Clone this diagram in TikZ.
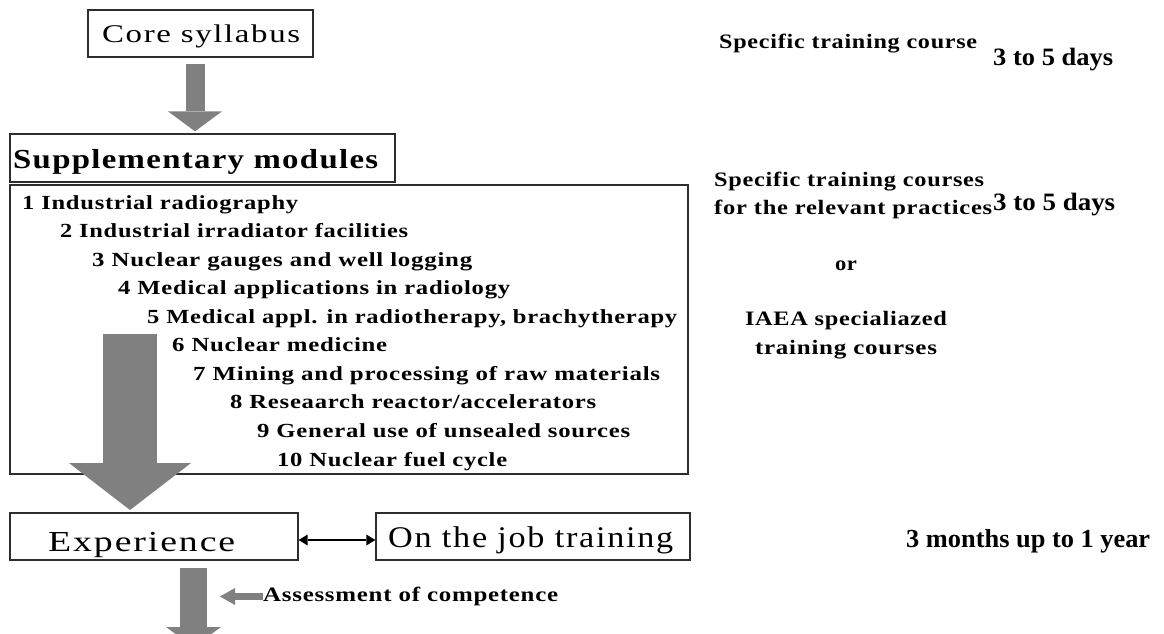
\documentclass[tikz,border=0pt]{standalone}
\usepackage{fontspec}
\setmainfont{Liberation Serif}
\usepackage{graphicx}
\usetikzlibrary{arrows.meta,calc}

\definecolor{arrowgray}{RGB}{128,128,128}
\definecolor{framegray}{RGB}{45,45,45}

% set a text and stretch it horizontally to a given width (in pt)
\newsavebox\fitbx
\newcommand\fitw[2]{\sbox\fitbx{#2}\pgfmathsetmacro\fitsx{#1/\the\wd\fitbx}\scalebox{\fitsx}[1]{\usebox\fitbx}}

\tikzset{
  frame/.style={draw=framegray, line width=1.3pt, fill=white, rectangle, inner sep=0pt},
  txt/.style={inner sep=0pt, anchor=base west},
  ctxt/.style={inner sep=0pt, anchor=base},
  headfont/.style={font=\fontsize{#1}{#1}\selectfont\addfontfeature{LetterSpace=5}},
  headbold/.style={font=\fontsize{#1}{#1}\selectfont\bfseries\addfontfeature{LetterSpace=4}},
  itemfont/.style={font=\fontsize{20}{20}\selectfont\bfseries\addfontfeature{LetterSpace=3}},
  notefont/.style={font=\fontsize{20.5}{20.5}\selectfont\bfseries\addfontfeature{LetterSpace=3}},
  timefont/.style={font=\fontsize{#1}{#1}\selectfont\bfseries},
  blockarrow/.style n args={3}{draw=arrowgray, line width=#1pt,
    -{Triangle[width=#2pt 0 0, length=#3pt 0 0, line width=0pt, fill=arrowgray]}},
  linkarrow/.style={draw=black, line width=1.8pt,
    {Triangle[width=11pt 0 0, length=9pt 0 0, line width=0pt]}-{Triangle[width=11pt 0 0, length=9pt 0 0, line width=0pt]}}
}

\begin{document}
\begin{tikzpicture}[x=1pt,y=-1pt]
  \useasboundingbox (0,0) rectangle (1164,633);
  \fill[white] (0,0) rectangle (1164,633);

  % frames
  \node[frame, minimum width=225pt, minimum height=47pt] (core) at (200.5,33.5) {};
  \node[frame, minimum width=385pt, minimum height=48pt] (supp) at (202.5,158) {};
  \node[frame, minimum width=678pt, minimum height=289pt] (list) at (349,329.5) {};
  \node[frame, minimum width=288pt, minimum height=47pt] (exp) at (154,536.5) {};
  \node[frame, minimum width=314pt, minimum height=47pt] (ojt) at (533,536.5) {};

  % frame titles
  \node[txt, headfont=25.5] (tcore) at (102,42) {\fitw{198}{Core syllabus}};
  \node[txt, headbold=27.5] (tsupp) at (13,168) {\fitw{365}{Supplementary modules}};
  \node[txt, headfont=29] (texp) at (48,551) {\fitw{187}{Experience}};
  \node[txt, headfont=30] (tojt) at (388,547) {\fitw{285}{On the job training}};

  % supplementary modules
  \node[txt, itemfont] (m1) at (22,209) {\fitw{276}{1 Industrial radiography}};
  \node[txt, itemfont] (m2) at (60,237.6) {\fitw{348}{2 Industrial irradiator facilities}};
  \node[txt, itemfont] (m3) at (92,266.1) {\fitw{380}{3 Nuclear gauges and well logging}};
  \node[txt, itemfont] (m4) at (118,294.7) {\fitw{392}{4 Medical applications in radiology}};
  \node[txt, itemfont] (m5) at (147,323.2) {\fitw{530}{5 Medical appl. in radiotherapy, brachytherapy}};
  \node[txt, itemfont] (m6) at (172,351.8) {\fitw{215}{6 Nuclear medicine}};
  \node[txt, itemfont] (m7) at (193,380.4) {\fitw{467}{7 Mining and processing of raw materials}};
  \node[txt, itemfont] (m8) at (230,408.9) {\fitw{366}{8 Reseaarch reactor/accelerators}};
  \node[txt, itemfont] (m9) at (257,437.5) {\fitw{373}{9 General use of unsealed sources}};
  \node[txt, itemfont] (m10) at (277,466) {\fitw{230}{10 Nuclear fuel cycle}};

  % right-hand notes
  \node[txt, notefont] (n1) at (719,48) {\fitw{258}{Specific training course}};
  \node[txt, timefont=25] (d1) at (993,65) {\fitw{120}{3 to 5 days}};
  \node[txt, notefont] (n2a) at (714,186) {\fitw{270}{Specific training courses}};
  \node[txt, notefont] (n2b) at (714,214) {\fitw{278}{for the relevant practices}};
  \node[txt, timefont=25] (d2) at (993,210) {\fitw{122}{3 to 5 days}};
  \node[ctxt, notefont] (nor) at (846,270.7) {\fitw{22}{or}};
  \node[ctxt, notefont] (n3a) at (846,325) {\fitw{202}{IAEA specialiazed}};
  \node[ctxt, notefont] (n3b) at (846,354) {\fitw{182}{training courses}};
  \node[txt, timefont=26] (d3) at (906,547) {\fitw{244}{3 months up to 1 year}};
  \node[txt, notefont] (assess) at (263,601.7) {\fitw{295}{Assessment of competence}};

  % flow arrows
  \draw[blockarrow={19}{54}{20}] ($(core.south)+(-5.5,6)$) -- ($(supp.north)+(-7.5,-2)$);
  \coordinate (bigtop) at (130,334);
  \coordinate (bigtip) at (130,510);
  \draw[blockarrow={54}{122}{47}] (bigtop) -- (bigtip);
  \draw[linkarrow] ([yshift=-3.5pt]exp.east) -- ([yshift=-3.5pt]ojt.west);
  \coordinate (asstip) at (220,596.5);
  \draw[blockarrow={7.5}{17}{15}] ($(assess.base west)+(0,-5.2)$) -- (asstip);
  \begin{scope}
    \clip (0,0) rectangle (1164,633);
    \coordinate (outtip) at (193.5,647);
    \draw[blockarrow={27}{55}{20}] ($(exp.south)+(39.5,7)$) -- (outtip);
  \end{scope}
\end{tikzpicture}
\end{document}
